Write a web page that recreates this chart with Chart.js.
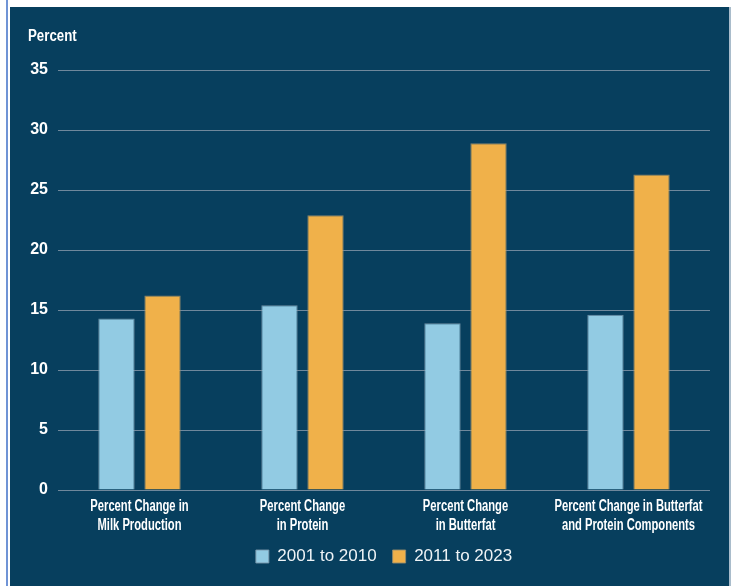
<!DOCTYPE html>
<html>
<head>
<meta charset="utf-8">
<script src="https://cdn.jsdelivr.net/npm/chart.js@4"></script>
<style>
  html, body { margin: 0; padding: 0; background: #fff; }
  body { width: 732px; height: 586px; position: relative; overflow: hidden; }
  #edge { position: absolute; left: 6px; top: 0; width: 2px; height: 586px; background: #7094d6; }
  #panel { position: absolute; left: 10px; top: 7px; width: 719px; height: 579px; background: #073f5e; }
  #rim { position: absolute; left: 729px; top: 7px; width: 2px; height: 579px; background: #a9bccb; }
  canvas { display: block; }
</style>
</head>
<body>
<div id="edge"></div>
<div id="panel"><canvas id="barChart" width="719" height="579"></canvas></div>
<div id="rim"></div>
<script>
const categories = [
    ['Percent Change in', 'Milk Production'],
    ['Percent Change', 'in Protein'],
    ['Percent Change', 'in Butterfat'],
    ['Percent Change in Butterfat', 'and Protein Components']
];
const seriesNames = ['2001 to 2010', '2011 to 2023'];
const values2001to2010 = [14.3, 15.4, 13.9, 14.6];
const values2011to2023 = [16.2, 22.9, 28.9, 26.3];
const yTicks = [0, 5, 10, 15, 20, 25, 30, 35];
const axisTitle = 'Percent';

// no condensed font installed, so squeeze the bold sans horizontally
function drawNarrow(ctx, text, x, y, squeeze, align) {
    ctx.save();
    ctx.translate(x, y);
    ctx.scale(squeeze, 1);
    ctx.textAlign = align;
    ctx.fillText(text, 0, 0);
    ctx.restore();
}

const narrowText = {
    id: 'narrowText',
    afterDraw(chart) {
        const c = chart.ctx;
        const xs = chart.scales.x;
        const area = chart.chartArea;
        c.save();
        c.fillStyle = '#ffffff';
        c.textBaseline = 'middle';
        c.font = 'bold 16px "Liberation Sans", Arial, sans-serif';
        // category labels under the axis
        chart.data.labels.forEach(function (lines, i) {
            const x = xs.getPixelForTick(i);
            lines.forEach(function (line, j) {
                drawNarrow(c, line, x, xs.top + 17 + j * 19, 0.7, 'center');
            });
        });
        // "Percent" above the value axis
        drawNarrow(c, axisTitle, area.left - 30, area.top - 33, 0.83, 'left');
        c.restore();
    }
};

// legend centred on the plot area, not the whole canvas
const legendOnPlot = {
    id: 'legendOnPlot',
    afterLayout(chart) {
        chart.legend.left = chart.chartArea.left;
        chart.legend.right = chart.chartArea.right;
    }
};

const ctx = document.getElementById('barChart').getContext('2d');
const barChart = new Chart(ctx, {
    type: 'bar',
    data: {
        labels: categories,
        datasets: [{
            label: seriesNames[0],
            data: values2001to2010,
            backgroundColor: '#92cbe3',
            borderColor: 'rgba(120,150,170,0.9)',
            borderWidth: 1,
            categoryPercentage: 0.565,
            barPercentage: 0.79
        }, {
            label: seriesNames[1],
            data: values2011to2023,
            backgroundColor: '#f0b14a',
            borderColor: 'rgba(150,140,110,0.9)',
            borderWidth: 1,
            categoryPercentage: 0.565,
            barPercentage: 0.79
        }]
    },
    options: {
        responsive: false,
        animation: false,
        layout: { padding: { left: 18, right: 19, top: 63, bottom: 11 } },
        scales: {
            x: {
                grid: { display: false },
                border: { display: false },
                ticks: { display: false },
                afterFit: function (axis) { axis.height = 42; }
            },
            y: {
                min: 0,
                max: 35,
                afterBuildTicks: function (axis) {
                    axis.ticks = yTicks.map(function (v) { return { value: v }; });
                },
                afterFit: function (axis) { axis.width = 30; },
                grid: { color: '#6f889c', lineWidth: 1, drawTicks: false },
                border: { display: false },
                ticks: {
                    color: '#ffffff',
                    padding: 10,
                    font: { family: 'Liberation Sans', weight: 'bold', size: 16 }
                }
            }
        },
        plugins: {
            title: { display: false },
            legend: {
                display: true,
                position: 'bottom',
                labels: {
                    color: '#eef3f6',
                    boxWidth: 13,
                    boxHeight: 13,
                    padding: 16,
                    font: { family: 'Liberation Sans', size: 17 }
                }
            },
            tooltip: { enabled: false }
        }
    },
    plugins: [legendOnPlot, narrowText]
});
</script>
</body>
</html>
